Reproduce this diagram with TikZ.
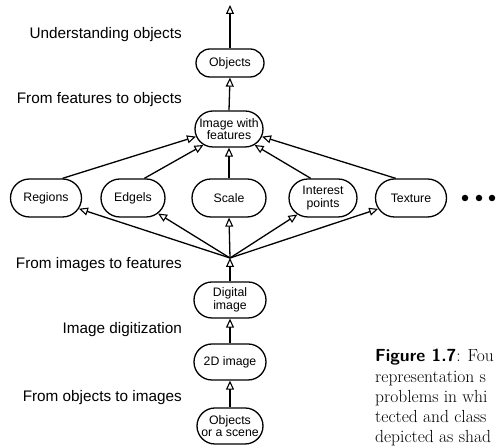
\documentclass[tikz,border=0pt]{standalone}
\usepackage{fontspec}
\newfontfamily\labfont{Liberation Sans}
\usetikzlibrary{shapes.misc,arrows.meta,calc}
\tikzset{
  box/.style={draw, rounded rectangle, line width=1.3pt, minimum height=36pt, minimum width=72pt,
    inner sep=1pt, align=center, font=\labfont\fontsize{12.3}{12.5}\selectfont},
  lab/.style={anchor=east, inner sep=0pt, font=\labfont\fontsize{15.3}{16}\selectfont},
  captext/.style={anchor=base west, inner sep=0pt, font=\fontsize{17.5}{20}\selectfont},
  con/.style={line width=1.3pt, -{Triangle[open,length=9pt,width=8pt,line width=1.1pt]}},
  blackdot/.style={circle, fill=black, inner sep=0pt, minimum size=6.5pt}
}
\begin{document}
\begin{tikzpicture}[x=1pt,y=1pt]
\clip (0,0) rectangle (496,446);
\fill[white] (0,0) rectangle (496,446);
% nodes
\node[box, minimum width=70pt, minimum height=28pt] (obj) at (230,383) {Objects};
\node[box, minimum width=70pt] (ifeat) at (229,317) {Image with\\features};
\node[box, minimum width=73pt, minimum height=38pt] (reg) at (46,248) {Regions};
\node[box, minimum width=66pt, minimum height=38pt] (edg) at (133,248) {Edgels};
\node[box, minimum width=76pt, minimum height=38pt] (sca) at (229,248) {Scale};
\node[box, minimum width=70pt, minimum height=38pt] (int) at (323,248) {Interest\\points};
\node[box, minimum width=73pt, minimum height=38pt] (tex) at (411,248) {Texture};
\node[box, minimum width=74pt] (dig) at (230,146) {Digital\\image};
\node[box, minimum width=74pt] (twod) at (230,84) {2D image};
\node[box, minimum width=68pt] (scene) at (230,20) {Objects\\or a scene};
\coordinate (top) at (230,441);
\coordinate (junc) at (230,188);
\node[blackdot] (d1) at (465,248) {};
\node[blackdot] (d2) at (479,248) {};
\node[blackdot] (d3) at (492,248) {};
% labels
\node[lab] (l1) at (182,411) {Understanding objects};
\node[lab] (l2) at (182,346) {From features to objects};
\node[lab] (l3) at (182,181) {From images to features};
\node[lab] (l4) at (182,116) {Image digitization};
\node[lab] (l5) at (182,48) {From objects to images};
% connectors
\draw[con] (obj.north) -- (top);
\draw[con] (ifeat.north) -- (obj.south);
\draw[con] (reg.50) -- (ifeat.193);
\draw[con] (edg.60) -- (ifeat.212);
\draw[con] (sca.north) -- (ifeat.south);
\draw[con] (int.122) -- (ifeat.328);
\draw[con] (tex.128) -- (ifeat.347);
\draw[con] (junc) -- (reg);
\draw[con] (junc) -- (edg);
\draw[con] (junc) -- (sca.south);
\draw[con] (junc) -- (int);
\draw[con] (junc) -- (tex);
\draw[con] (dig.north) -- (junc);
\draw[con] (twod.north) -- (dig.south);
\draw[con] (scene.north) -- (twod.south);
% caption fragment
\node[captext] (c1) at (375,84) {{\sffamily\bfseries Figure 1.7}: Fou};
\node[captext] (c2) at (375,63) {representation s};
\node[captext] (c3) at (375,43) {problems in whi};
\node[captext] (c4) at (375,23) {tected and class};
\node[captext] (c5) at (375,3) {depicted as shad};
\end{tikzpicture}
\end{document}
